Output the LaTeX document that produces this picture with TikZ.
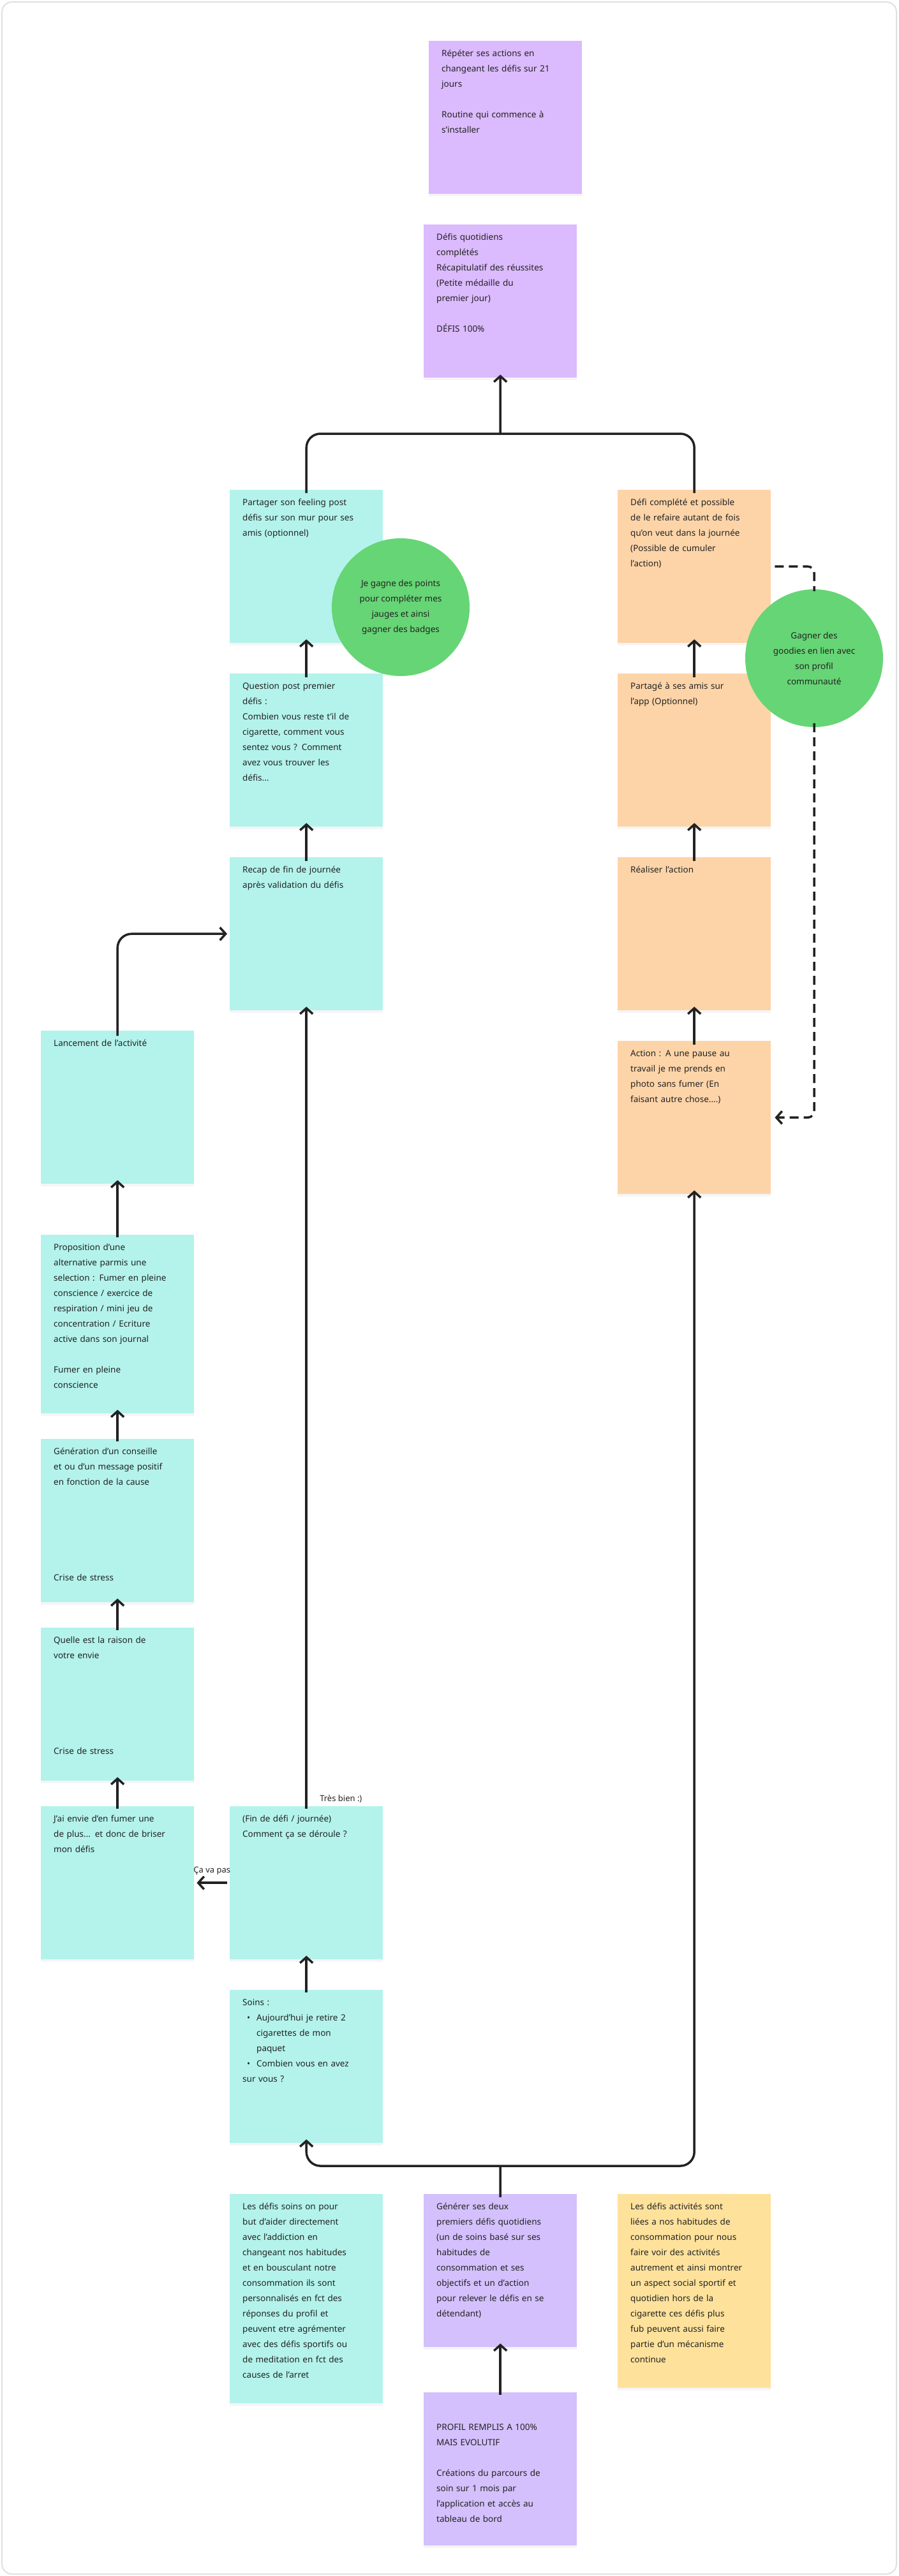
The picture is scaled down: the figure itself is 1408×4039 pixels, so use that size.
\documentclass[tikz,border=0pt]{standalone}
\usepackage{fontspec}
\setmainfont{Noto Sans}
\usetikzlibrary{arrows.meta}
\definecolor{cy}{HTML}{B3F3EB}
\definecolor{orn}{HTML}{FDD4A8}
\definecolor{pu}{HTML}{DBBAFD}
\definecolor{pub}{HTML}{D3C0FC}
\definecolor{yel}{HTML}{FEE29C}
\definecolor{gr}{HTML}{66D575}
\definecolor{ink}{HTML}{222222}
\tikzset{
  box/.style={anchor=north west,minimum width=240pt,inner sep=0pt,draw=none,
    drop shadow={opacity=0.08,shadow xshift=0pt,shadow yshift=-4pt}},
  txt/.style={anchor=north west,text width=215pt,align=left,inner sep=0pt,
    font=\fontsize{13.5}{24}\selectfont,text=ink},
  circ/.style={circle,fill=gr,minimum size=216pt,inner sep=0pt,align=center,
    font=\fontsize{13.5}{24}\selectfont,text=ink},
  ar/.style={line width=3.5pt,draw=ink,-{Straight Barb[length=9pt,width=20pt,line width=3.5pt]}},
  ln/.style={line width=3.5pt,draw=ink},
  lab/.style={font=\bfseries\fontsize{13}{16}\selectfont,text=ink}
}
\usetikzlibrary{shadows}
\newcommand{\note}[6]{%
  \node[box,fill=#2,minimum height=#5pt] (#1) at (#3,#4) {};
  \node[txt] (#1t) at ([shift={(20pt,-14pt)}]#1.north west) {#6};}
\begin{document}
\begin{tikzpicture}[x=1pt,y=-1pt]
\useasboundingbox (0,0) rectangle (1408,4039);
\fill[white] (0,0) rectangle (1408,4039);
\draw[line width=2pt,draw=black!12,rounded corners=16pt] (3,3) rectangle (1405,4036);

\note{rep}{pu}{672}{64}{240}{Répéter ses actions en\\changeant les défis sur 21\\jours\\[24pt]\textbf{Routine qui commence à}\\\textbf{s’installer}}
\note{def}{pu}{664}{352}{240}{Défis quotidiens\\complétés\\Récapitulatif des réussites\\(Petite médaille du\\premier jour)\\[24pt]\textbf{DÉFIS 100\%}}

\note{par}{cy}{360}{768}{240}{Partager son feeling post\\défis sur son mur pour ses\\amis (optionnel)}
\note{que}{cy}{360}{1056}{240}{Question post premier\\défis :\\Combien vous reste t’il de\\cigarette, comment vous\\sentez vous ? Comment\\avez vous trouver les\\défis...}
\note{rec}{cy}{360}{1344}{240}{Recap de fin de journée\\après validation du défis}

\note{dfc}{orn}{968}{768}{240}{Défi complété et possible\\de le refaire autant de fois\\qu’on veut dans la journée\\(Possible de cumuler\\l’action)}
\note{pta}{orn}{968}{1056}{240}{Partagé à ses amis sur\\l’app (Optionnel)}
\note{rea}{orn}{968}{1344}{240}{Réaliser l’action}
\note{act}{orn}{968}{1632}{240}{Action : A une pause au\\travail je me prends en\\photo sans fumer (En\\faisant autre chose....)}

\node[circ] (c1) at (628,952) {Je gagne des points\\pour compléter mes\\jauges et ainsi\\gagner des badges};
\node[circ] (c2) at (1276,1032) {Gagner des\\goodies en lien avec\\son profil\\communauté};

\note{lan}{cy}{64}{1616}{240}{Lancement de l’activité}
\note{pro}{cy}{64}{1936}{280}{Proposition d’une\\alternative parmis une\\selection : Fumer en pleine\\conscience / exercice de\\respiration / mini jeu de\\concentration / Ecriture\\active dans son journal\\[24pt]\textbf{Fumer en pleine}\\\textbf{conscience}}
\note{gen}{cy}{64}{2256}{256}{Génération d’un conseille\\et ou d’un message positif\\en fonction de la cause}
\node[txt] at (84,2468) {\textbf{Crise de stress}};
\note{qu2}{cy}{64}{2552}{240}{Quelle est la raison de\\votre envie}
\node[txt] at (84,2740) {\textbf{Crise de stress}};
\note{jai}{cy}{64}{2832}{240}{J’ai envie d’en fumer une\\de plus... et donc de briser\\mon défis}
\note{fin}{cy}{360}{2832}{240}{(Fin de défi / journée)\\Comment ça se déroule ?}
\note{soi}{cy}{360}{3120}{240}{Soins :\par
\leftskip=22pt\noindent\llap{\textbullet\hspace{10pt}}Aujourd’hui je retire 2\\cigarettes de mon\\paquet\par
\noindent\llap{\textbullet\hspace{10pt}}Combien vous en avez\\sur vous ?}

\note{les}{cy}{360}{3440}{328}{Les défis soins on pour\\but d’aider directement\\avec l’addiction en\\changeant nos habitudes\\et en bousculant notre\\consommation ils sont\\personnalisés en fct des\\réponses du profil et\\peuvent etre agrémenter\\avec des défis sportifs ou\\de meditation en fct des\\causes de l’arret}
\note{gsd}{pub}{664}{3440}{240}{Générer ses deux\\premiers défis quotidiens\\(un de soins basé sur ses\\habitudes de\\consommation et ses\\objectifs et un d’action\\pour relever le défis en se\\détendant)}
\note{lda}{yel}{968}{3440}{304}{Les défis activités sont\\liées a nos habitudes de\\consommation pour nous\\faire voir des activités\\autrement et ainsi montrer\\un aspect social sportif et\\quotidien hors de la\\cigarette ces défis plus\\fub peuvent aussi faire\\partie d’un mécanisme\\continue}
\node[box,fill=pub,minimum height=240pt] (pfl) at (664,3751) {};
\node[txt] at (684,3800) {\textbf{PROFIL REMPLIS A 100\%}\\\textbf{MAIS EVOLUTIF}\\[24pt]Créations du parcours de\\soin sur 1 mois par\\l’application et accès au\\tableau de bord};

% connectors
\coordinate (mt) at (784,680);
\draw[ln,rounded corners=22pt] ([yshift=-5pt]par.north) |- (mt);
\draw[ln,rounded corners=22pt] ([yshift=-5pt]dfc.north) |- (mt);
\draw[ar] (mt) -- ([yshift=5pt]def.south);

\draw[ar] ([yshift=-6pt]que.north) -- ([yshift=6pt]par.south);
\draw[ar] ([yshift=-6pt]rec.north) -- ([yshift=6pt]que.south);
\draw[ar] ([yshift=-6pt]pta.north) -- ([yshift=6pt]dfc.south);
\draw[ar] ([yshift=-6pt]rea.north) -- ([yshift=6pt]pta.south);
\draw[ar] ([yshift=-6pt]act.north) -- ([yshift=6pt]rea.south);

\draw[ar,rounded corners=22pt] ([yshift=-8pt]lan.north) |- ([xshift=-4pt]rec.west);
\draw[ar] ([yshift=-4pt]pro.north) -- ([yshift=6pt]lan.south);
\draw[ar] ([yshift=-4pt]gen.north) -- ([yshift=6pt]pro.south);
\draw[ar] ([yshift=-4pt]qu2.north) -- ([yshift=6pt]gen.south);
\draw[ar] ([yshift=-4pt]jai.north) -- ([yshift=6pt]qu2.south);

\draw[ar] ([yshift=-4pt]fin.north) -- ([yshift=6pt]rec.south) node[pos=0,lab,anchor=south west,xshift=16pt,yshift=4pt] {Très bien :)};
\draw[ar] ([xshift=-4pt]fin.west) -- ([xshift=4pt]jai.east) node[pos=0.5,lab,anchor=south,yshift=8pt] {Ça va pas};
\draw[ar] ([yshift=-4pt]soi.north) -- ([yshift=6pt]fin.south);

\coordinate (mb) at (784,3396);
\draw[ln] ([yshift=-5pt]gsd.north) -- (mb);
\draw[ar,rounded corners=22pt] (mb) -| ([yshift=6pt]soi.south);
\draw[ar,rounded corners=22pt] (mb) -| ([yshift=6pt]act.south);
\draw[ar] ([yshift=-4pt]pfl.north) -- ([yshift=6pt]gsd.south);

\draw[ln,dashed,dash pattern=on 14pt off 8pt,rounded corners=10pt] ([xshift=6pt]dfc.east) -| ([yshift=-3pt]c2.north);
\draw[ar,dash pattern=on 14pt off 8pt,rounded corners=10pt] ([yshift=6pt]c2.south) |- ([xshift=6pt]act.east);
\end{tikzpicture}
\end{document}
